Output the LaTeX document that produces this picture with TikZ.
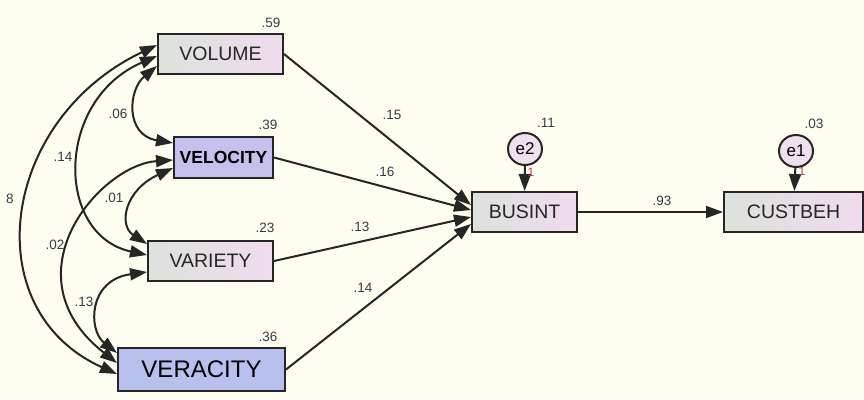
\documentclass[tikz,border=0pt]{standalone}
\usepackage{fontspec}
\setmainfont{Liberation Sans}
\usetikzlibrary{arrows.meta,shapes.geometric}
\definecolor{bgc}{HTML}{FDFDF0}
\definecolor{boxl}{HTML}{DCE2DC}
\definecolor{boxr}{HTML}{F0DCEE}
\definecolor{velc}{HTML}{C6C0EC}
\definecolor{verc}{HTML}{B8C0EE}
\definecolor{edgec}{HTML}{262626}
\definecolor{numc}{HTML}{3A3A4C}
\definecolor{onec}{HTML}{C03050}
\definecolor{errc}{HTML}{EEE0EE}
\tikzset{
  obsbox/.style={draw=edgec, line width=2pt, inner sep=0pt, text=black!85,
    font=\fontsize{19.5}{21}\selectfont, left color=boxl, right color=boxr},
  errnode/.style={ellipse, draw=edgec, line width=2pt, fill=errc, inner sep=0pt,
    minimum width=34pt, minimum height=32pt, font=\fontsize{17}{18}\selectfont},
  path/.style={draw=edgec, line width=2pt, -{Triangle[length=17pt,width=12pt]}},
  cov/.style={draw=edgec, line width=2pt, {Triangle[length=17pt,width=12pt]}-{Triangle[length=17pt,width=12pt]}},
  num/.style={text=numc, font=\fontsize{13.5}{14}\selectfont, inner sep=0pt},
  onelab/.style={text=onec, font=\fontsize{12}{12}\selectfont, inner sep=0pt}
}
\begin{document}
\begin{tikzpicture}[x=1pt,y=-1pt]
\useasboundingbox[fill=bgc] (0,0) rectangle (864,399);
% observed boxes
\node[obsbox, minimum width=125pt, minimum height=40pt] (vol) at (220.5,54) {VOLUME};
\node[obsbox, minimum width=99pt, minimum height=41pt, left color=velc, right color=velc,
  font=\fontsize{17.5}{18}\selectfont\bfseries, text=black] (vel) at (223.5,157.5) {VELOCITY};
\node[obsbox, minimum width=125pt, minimum height=40pt] (var) at (210.5,261) {VARIETY};
\node[obsbox, minimum width=167pt, minimum height=43pt, left color=verc, right color=verc,
  font=\fontsize{24}{26}\selectfont, text=black] (ver) at (201.5,369.5) {VERACITY};
\node[obsbox, minimum width=105pt, minimum height=40pt] (bus) at (524.5,212) {BUSINT};
\node[obsbox, minimum width=139pt, minimum height=40pt] (cust) at (793.5,212) {CUSTBEH};
% error terms
\node[errnode] (e2) at (525,149) {e2};
\node[errnode] (e1) at (796,151) {e1};
\draw[path] (e2) -- (bus);
\draw[path] (e1) -- (cust);
\node[onelab] (o2) at (531,172) {1};
\node[onelab] (o1) at (802,171) {1};
% regression paths
\draw[path] (vol.east) -- (bus.west |- 0,205);
\draw[path] (vel.east) -- (bus.west |- 0,210);
\draw[path] (var.east) -- (bus.west |- 0,217);
\draw[path] (ver.east) -- (bus.west |- 0,224);
\draw[path] (bus.east) -- (cust.west);
% covariances
\draw[cov] (vol.west |- 0,66) .. controls (128,90) and (125,135) .. (vel.west |- 0,143);
\draw[cov] (vol.west |- 0,56) .. controls (55,100) and (55,235) .. (var.west |- 0,255);
\draw[cov] (vol.west |- 0,45) .. controls (0,120) and (-25,310) .. (ver.west |- 0,374);
\draw[cov] (vel.west |- 0,168) .. controls (125,190) and (118,225) .. (var.west |- 0,244);
\draw[cov] (vel.west |- 0,160) .. controls (100,165) and (5,275) .. (ver.west |- 0,363);
\draw[cov] (var.west |- 0,272) .. controls (88,280) and (88,330) .. (ver.west |- 0,353);
% labels
\node[num] (l59) at (271,23) {.59};
\node[num] (l39) at (268,125) {.39};
\node[num] (l23) at (265,228) {.23};
\node[num] (l36) at (268,337) {.36};
\node[num] (l15) at (392,115) {.15};
\node[num] (l16) at (385,172) {.16};
\node[num] (l13a) at (360,227) {.13};
\node[num] (l14a) at (363,288) {.14};
\node[num] (l93) at (662,201) {.93};
\node[num] (l11) at (546,123) {.11};
\node[num] (l03) at (814,124) {.03};
\node[num] (l06) at (118,114) {.06};
\node[num] (l14b) at (63,157) {.14};
\node[num] (l8) at (10,199) {8};
\node[num] (l01) at (114,198) {.01};
\node[num] (l02) at (55,245) {.02};
\node[num] (l13b) at (84,302) {.13};
\end{tikzpicture}
\end{document}
